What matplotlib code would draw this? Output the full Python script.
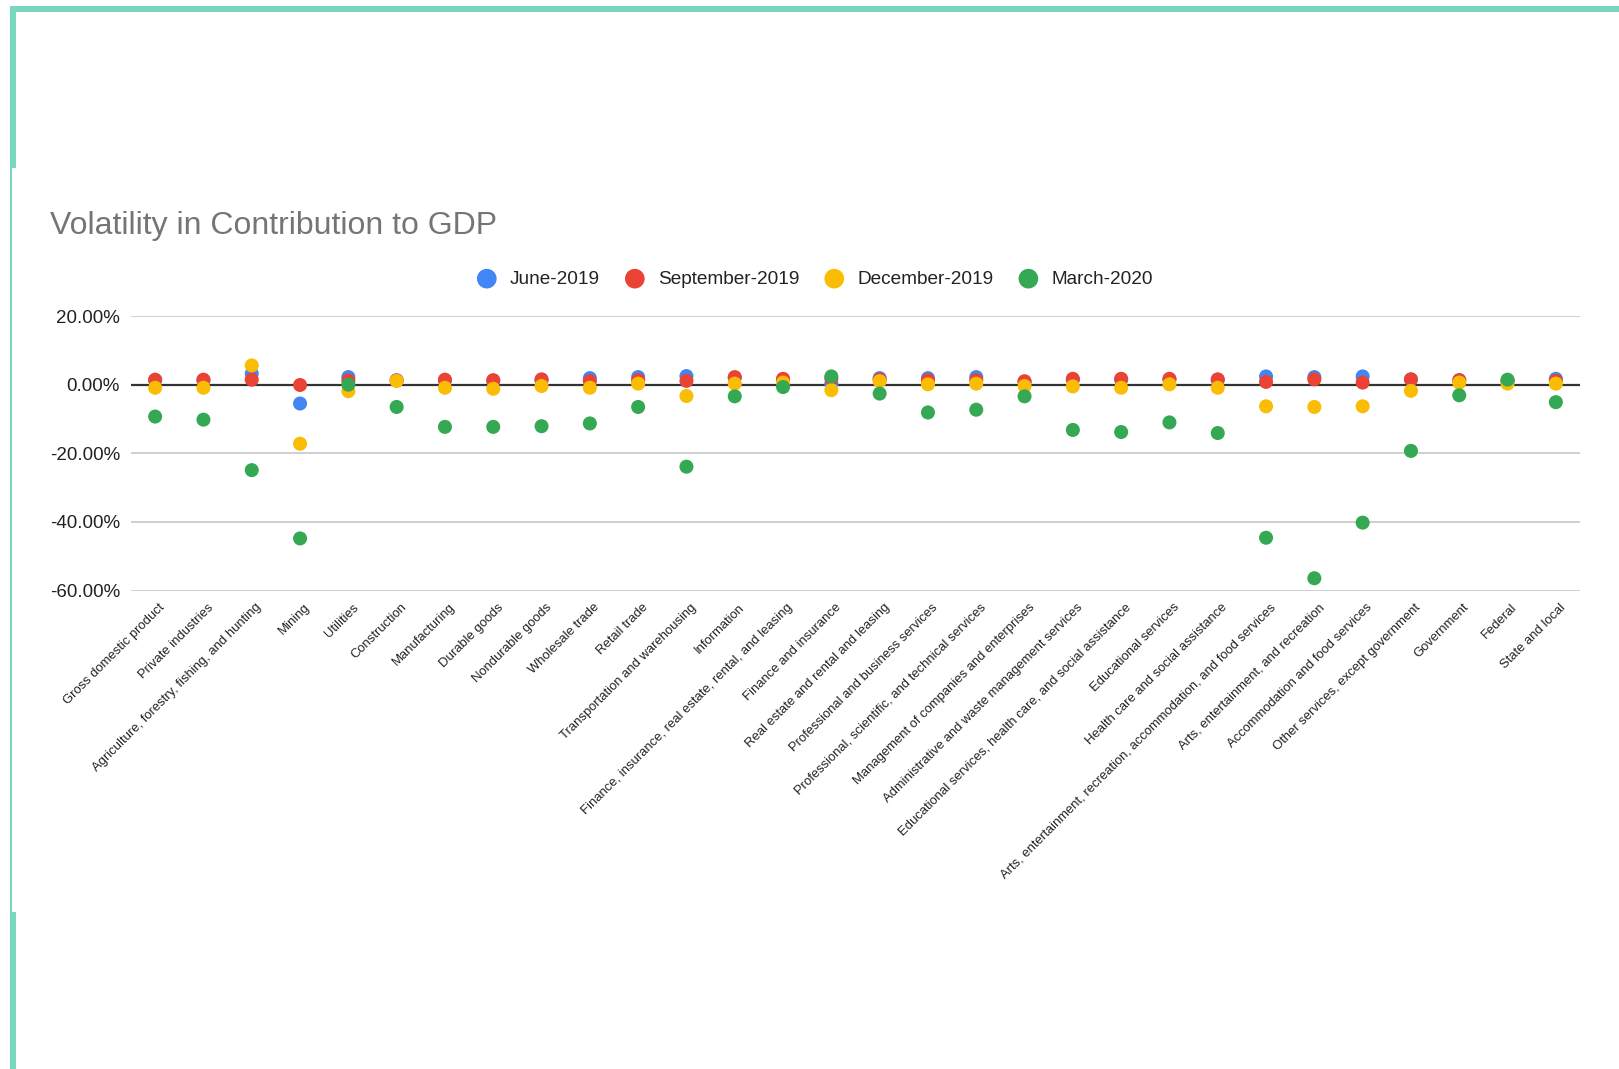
import matplotlib
matplotlib.use("Agg")
import matplotlib.pyplot as plt
from matplotlib.patches import Rectangle
from matplotlib.transforms import blended_transform_factory, ScaledTranslation
import numpy as np

plt.rcParams['font.family'] = ['Liberation Sans', 'DejaVu Sans']

categories = [
    "Gross domestic product", "Private industries",
    "Agriculture, forestry, fishing, and hunting", "Mining", "Utilities",
    "Construction", "Manufacturing", "Durable goods", "Nondurable goods",
    "Wholesale trade", "Retail trade", "Transportation and warehousing",
    "Information", "Finance, insurance, real estate, rental, and leasing",
    "Finance and insurance", "Real estate and rental and leasing",
    "Professional and business services",
    "Professional, scientific, and technical services",
    "Management of companies and enterprises",
    "Administrative and waste management services",
    "Educational services, health care, and social assistance",
    "Educational services", "Health care and social assistance",
    "Arts, entertainment, recreation, accommodation, and food services",
    "Arts, entertainment, and recreation", "Accommodation and food services",
    "Other services, except government", "Government", "Federal",
    "State and local",
]

june_2019 = [1.3, 1.3, 3.2, -5.5, 2.2, 1.3, 1.2, 1.1, 1.3, 1.9,
             2.2, 2.5, 2.0, 1.5, 0.3, 1.9, 1.9, 2.2, 0.8, 1.5,
             1.5, 1.5, 1.4, 2.4, 2.2, 2.4, 1.5, 1.3, 1.0, 1.7]
september_2019 = [1.45, 1.45, 1.45, -0.1, 1.2, 1.2, 1.45, 1.3, 1.55, 1.0,
                  1.3, 1.1, 2.2, 1.7, 1.8, 1.5, 1.3, 1.3, 1.0, 1.7,
                  1.7, 1.7, 1.55, 0.8, 1.55, 0.6, 1.55, 1.3, 1.0, 1.1]
december_2019 = [-0.9, -0.9, 5.6, -17.2, -1.9, 1.1, -0.9, -1.2, -0.4, -0.9,
                 0.3, -3.3, 0.3, 0.6, -1.6, 1.0, 0.1, 0.3, -0.4, -0.5,
                 -0.9, 0.1, -0.9, -6.3, -6.5, -6.3, -1.8, 0.6, 0.3, 0.3]
march_2020 = [-9.3, -10.2, -24.9, -44.8, 0.0, -6.5, -12.3, -12.3, -12.1, -11.3,
              -6.5, -23.9, -3.4, -0.7, 2.4, -2.6, -8.1, -7.3, -3.4, -13.2,
              -13.8, -11.0, -14.1, -44.6, -56.4, -40.2, -19.3, -3.1, 1.45, -5.1]

series_names = ["June-2019", "September-2019", "December-2019", "March-2020"]
series_values = [june_2019, september_2019, december_2019, march_2020]
series_colors = ["#4285F4", "#EA4335", "#FBBC04", "#34A853"]
y_ticks = [20, 0, -20, -40, -60]

W, H, DPI = 1619, 1069, 100
fig = plt.figure(figsize=(W / DPI, H / DPI), dpi=DPI)
fig.patch.set_facecolor("white")

# Decorative teal frame along the top and left edge
frame_color = "#79d7be"
def px_rect(x0, y0, x1, y1):
    fig.patches.append(Rectangle((x0 / W, 1 - y1 / H), (x1 - x0) / W, (y1 - y0) / H,
                                 transform=fig.transFigure, facecolor=frame_color,
                                 edgecolor="none", zorder=0))
px_rect(10, 6, W, 12)
px_rect(10, 6, 16, 168)
px_rect(10, 168, 12, 912)
px_rect(10, 912, 16, H)

ax_left, ax_right = 131, 1580
ax_top, ax_bottom = 316, 590.6
ax = fig.add_axes([ax_left / W, 1 - ax_bottom / H,
                   (ax_right - ax_left) / W, (ax_bottom - ax_top) / H])

x = np.arange(len(categories))
for name, vals, col in zip(series_names, series_values, series_colors):
    ax.scatter(x, vals, s=102, color=col, edgecolors="none", label=name, zorder=3)

ax.set_xlim(-0.5, len(categories) - 0.5)
ax.set_ylim(-60, 20)
ax.set_yticks(y_ticks)
ax.set_yticklabels([f"{v:.2f}%" for v in y_ticks])
ax.tick_params(axis="y", length=0, pad=7.9, labelsize=13.5, labelcolor="#222222")
ax.set_xticks([])
for s in ax.spines.values():
    s.set_visible(False)
for v in y_ticks:
    ax.axhline(v, color="#cccccc", linewidth=1.3, zorder=1)
ax.axhline(0, color="#333333", linewidth=1.6, zorder=2)

# Slanted category labels
lab_tr = blended_transform_factory(ax.transData, ax.transAxes) + \
    ScaledTranslation(8.0 / DPI, -15.0 / DPI, fig.dpi_scale_trans)
for xi, lab in zip(x, categories):
    ax.text(xi, 0, lab, transform=lab_tr, rotation=45, rotation_mode="anchor",
            ha="right", va="center", fontsize=9.4, color="#222222")

fig.text(49.6 / W, 1 - 226 / H, "Volatility in Contribution to GDP",
         fontsize=23, color="#757575", ha="left", va="center")

fig.legend(loc="center", bbox_to_anchor=(815 / W, 1 - 279 / H), ncol=4,
           frameon=False, fontsize=13.7, handlelength=1.0, handletextpad=0.7,
           columnspacing=1.35, markerscale=1.4, borderaxespad=0,
           labelcolor="#222222")

fig.savefig("out.png", dpi=DPI)
